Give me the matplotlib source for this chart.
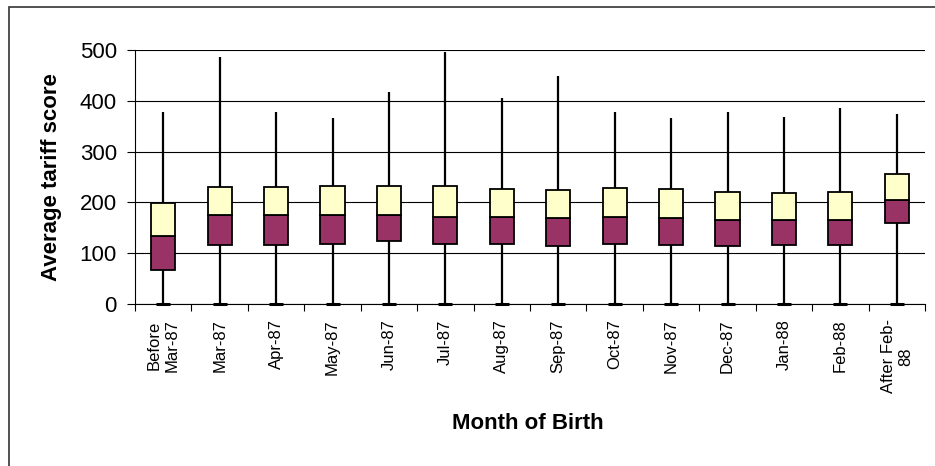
import matplotlib
matplotlib.use("Agg")
import matplotlib.pyplot as plt
from matplotlib.patches import Rectangle
import numpy as np

plt.rcParams['font.family'] = ['Liberation Sans', 'DejaVu Sans']

categories = ['Before\nMar-87', 'Mar-87', 'Apr-87', 'May-87', 'Jun-87', 'Jul-87',
              'Aug-87', 'Sep-87', 'Oct-87', 'Nov-87', 'Dec-87', 'Jan-88',
              'Feb-88', 'After Feb-\n88']
mins = [0, 0, 0, 0, 0, 0, 0, 0, 0, 0, 0, 0, 0, 0]
q1 = [66, 117, 117, 119, 125, 119, 119, 115, 119, 116, 114, 116, 116, 159]
medians = [134, 175, 175, 175, 175, 172, 172, 169, 171, 169, 165, 165, 165, 205]
q3 = [198, 230, 231, 232, 232, 232, 226, 224, 228, 226, 220, 218, 220, 256]
maxs = [377, 487, 377, 367, 417, 497, 405, 448, 377, 367, 377, 369, 385, 375]
y_ticks = [0, 100, 200, 300, 400, 500]

W, H = 935, 466
fig = plt.figure(figsize=(W / 100, H / 100), dpi=100)
ax = fig.add_axes([135 / W, 1 - 304 / H, 790 / W, 254 / H])

x = np.arange(len(categories))
q1a, meda, q3a = np.array(q1), np.array(medians), np.array(q3)

# whiskers
ax.vlines(x, mins, q1, color='black', lw=1.6, zorder=2)
ax.vlines(x, q3, maxs, color='black', lw=1.6, zorder=2)
ax.plot(x, mins, linestyle='none', marker='_', markersize=9.5, mew=2.2,
        color='black', zorder=3, clip_on=False)

# boxes
bw = 0.43
ax.bar(x, meda - q1a, bottom=q1a, width=bw, color='#993366',
       edgecolor='black', lw=1.3, zorder=4)
ax.bar(x, q3a - meda, bottom=meda, width=bw, color='#FFFFCC',
       edgecolor='black', lw=1.3, zorder=4)

ax.set_xlim(-0.5, len(categories) - 0.5)
ax.set_ylim(0, 500)
ax.set_yticks(y_ticks)
ax.yaxis.grid(True, color='black', lw=0.8, zorder=0)
ax.set_axisbelow(True)

for s in ['top', 'right']:
    ax.spines[s].set_visible(False)
ax.spines['left'].set_linewidth(0.8)
ax.spines['bottom'].set_linewidth(0.8)

ax.tick_params(axis='y', direction='out', length=6, width=0.8, labelsize=16, pad=7)
ax.set_xticks(np.arange(-0.5, len(categories), 1.0))
ax.set_xticklabels([])
ax.tick_params(axis='x', which='major', direction='out', length=5, width=0.8)
ax.set_xticks(x, minor=True)
ax.set_xticklabels(categories, minor=True, rotation=90, fontsize=12,
                   va='top', ha='center', multialignment='center')
ax.tick_params(axis='x', which='minor', length=0, pad=11)

ax.set_ylabel('Average tariff score', fontsize=16, fontweight='bold')
ax.yaxis.set_label_coords(-0.093, 0.5)
ax.set_xlabel('Month of Birth', fontsize=16, fontweight='bold', va='top')
ax.xaxis.set_label_coords(0.4975, -0.43)

fig.patches.append(Rectangle((8.5 / W, -0.1), 1.2, 1.1 - 7 / H,
                             transform=fig.transFigure, fill=False,
                             edgecolor='#333333', lw=1.2))

fig.savefig('out.png', dpi=100)
